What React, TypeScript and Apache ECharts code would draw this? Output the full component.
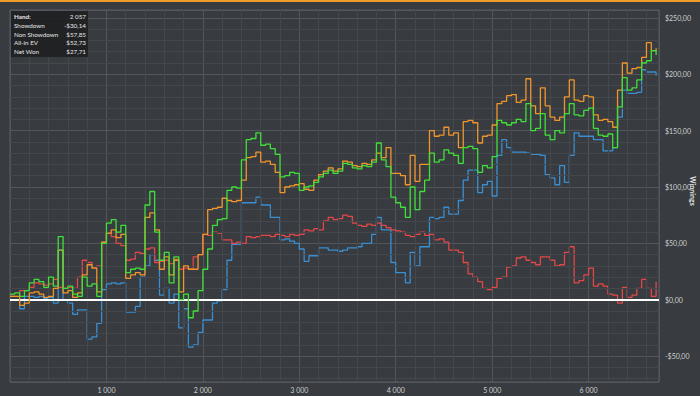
import React, { useEffect, useRef } from "react";
import * as echarts from "echarts";

const hands = [
  0, 50, 100, 150, 200, 250, 300, 350, 400, 450,
  500, 550, 600, 650, 700, 750, 800, 850, 900, 950,
  1000, 1050, 1100, 1150, 1200, 1250, 1300, 1350, 1400, 1450,
  1500, 1550, 1600, 1650, 1700, 1750, 1800, 1850, 1900, 1950,
  2000, 2050, 2100, 2150, 2200, 2250, 2300, 2350, 2400, 2450,
  2500, 2550, 2600, 2650, 2700, 2750, 2800, 2850, 2900, 2950,
  3000, 3050, 3100, 3150, 3200, 3250, 3300, 3350, 3400, 3450,
  3500, 3550, 3600, 3650, 3700, 3750, 3800, 3850, 3900, 3950,
  4000, 4050, 4100, 4150, 4200, 4250, 4300, 4350, 4400, 4450,
  4500, 4550, 4600, 4650, 4700, 4750, 4800, 4850, 4900, 4950,
  5000, 5050, 5100, 5150, 5200, 5250, 5300, 5350, 5400, 5450,
  5500, 5550, 5600, 5650, 5700, 5750, 5800, 5850, 5900, 5950,
  6000, 6050, 6100, 6150, 6200, 6250, 6300, 6350, 6400, 6450,
  6500, 6550, 6600, 6650, 6700,
];

// Net Won (green)
const netWon = [
  5, 6, 3, 8, 15, 18, 16, 11, 20, 12,
  56, 10, 12, 5, 3, 20, 12, 14, 3, 50,
  68, 71, 60, 66, 24, 27, 28, 27, 84, 96,
  60, 35, 42, 15, 38, 0, 5, -16, -10, 8,
  27, 45, 66, 71, 72, 97, 100, 99, 124, 142,
  143, 148, 137, 138, 134, 129, 109, 110, 113, 112,
  97, 100, 101, 104, 109, 112, 115, 112, 114, 121,
  120, 117, 116, 119, 118, 122, 139, 124, 118, 91,
  86, 82, 73, 100, 80, 96, 106, 130, 122, 124,
  133, 130, 128, 121, 135, 136, 134, 113, 119, 117,
  127, 159, 157, 155, 157, 160, 158, 174, 150, 152,
  165, 146, 142, 150, 148, 165, 174, 164, 163, 168,
  170, 152, 146, 145, 147, 135, 171, 197, 186, 188,
  195, 210, 212, 221, 217,
];

// Showdown (blue)
const showdown = [
  0, 0, -8, 3, 3, 2, 3, 1, 2, -3,
  44, 0, -3, -13, -9, -9, -35, -33, -21, 9,
  14, 15, 14, 15, -11, -11, -6, 20, 30, 40,
  35, 4, 10, -3, 5, -25, -8, -42, -40, -29,
  -18, -18, -3, -1, 9, 35, 49, 49, 86, 86,
  86, 91, 84, 84, 73, 73, 53, 54, 52, 50,
  45, 34, 39, 39, 46, 46, 44, 44, 43, 44,
  46, 46, 47, 50, 50, 58, 73, 62, 62, 33,
  24, 24, 15, 42, 30, 47, 47, 73, 72, 73,
  82, 76, 76, 88, 106, 115, 115, 95, 102, 105,
  92, 128, 142, 135, 131, 131, 131, 130, 129, 129,
  128, 111, 108, 102, 119, 104, 128, 148, 145, 145,
  145, 142, 142, 132, 132, 135, 162, 186, 183, 183,
  184, 204, 202, 202, 199,
];

// All-in EV (orange)
const allInEv = [
  3, 3, -5, -3, 6, 7, 5, 2, 3, 10,
  44, 6, 8, 2, 6, 22, 31, 28, 7, 51,
  59, 62, 55, 58, 19, 22, 24, 22, 73, 77,
  62, 27, 38, 22, 35, 7, 30, 27, 27, 40,
  58, 80, 81, 82, 90, 88, 87, 88, 106, 126,
  127, 131, 122, 123, 120, 113, 95, 100, 101, 102,
  103, 98, 97, 106, 111, 114, 117, 114, 116, 123,
  122, 119, 118, 121, 120, 124, 130, 126, 135, 112,
  112, 110, 102, 128, 105, 120, 120, 150, 145, 146,
  153, 146, 148, 135, 158, 159, 157, 139, 145, 146,
  155, 174, 176, 181, 182, 175, 177, 196, 172, 165,
  188, 172, 162, 159, 162, 180, 195, 177, 176, 181,
  180, 164, 159, 160, 158, 153, 186, 210, 201, 205,
  206, 215, 228, 221, 223,
];

// Non Showdown (red)
const nonShowdown = [
  3, 3, 8, 8, 11, 15, 14, 13, 14, 18,
  11, 10, 11, 10, 20, 35, 33, 29, 30, 51,
  59, 56, 50, 48, 35, 36, 42, 41, 45, 46,
  33, 34, 35, 32, 36, 27, 28, 27, 38, 40,
  58, 57, 60, 59, 53, 53, 50, 51, 50, 56,
  55, 56, 57, 57, 56, 58, 57, 56, 58, 57,
  58, 62, 61, 63, 62, 70, 73, 71, 72, 75,
  74, 68, 66, 65, 67, 66, 68, 66, 64, 62,
  61, 60, 57, 56, 58, 60, 57, 58, 53, 54,
  51, 44, 44, 42, 33, 23, 20, 16, 10, 9,
  11, 19, 20, 29, 30, 37, 38, 35, 33, 31,
  38, 38, 35, 30, 31, 42, 47, 15, 17, 22,
  28, 12, 14, 12, 5, 4, -3, 11, 2, 4,
  10, 18, 10, 3, 16,
];

const minorY = [-70, -60, -40, -30, -20, -10, 10, 20, 30, 40, 60, 70, 80, 90, 110, 120, 130, 140, 160, 170, 180, 190, 210, 220, 230, 240];
const minorX = [200, 400, 600, 800, 1200, 1400, 1600, 1800, 2200, 2400, 2600, 2800, 3200, 3400, 3600, 3800, 4200, 4400, 4600, 4800, 5200, 5400, 5600, 5800, 6200, 6400, 6600];

const tooltipRows: [string, string][] = [
  ["Hand:", "2 057"],
  ["Showdown", "-$30,14"],
  ["Non Showdown", "$57,85"],
  ["All-in EV", "$52,73"],
  ["Net Won", "$27,71"],
];

const FONT = "Lato, 'Noto Sans', sans-serif";

function fmtMoney(v: number) {
  const a = Math.abs(v);
  return (v < 0 ? "-$" : "$") + a + ",00";
}
function fmtHands(v: number) {
  if (v >= 1000) {
    return Math.floor(v / 1000) + " " + String(v % 1000).padStart(3, "0");
  }
  return String(v);
}

export default function App() {
  const ref = useRef<HTMLDivElement>(null);
  useEffect(() => {
    if (!ref.current) return;
    const chart = echarts.init(ref.current, undefined, { renderer: "svg" });
    const mk = (vals: number[]) => hands.map((h, i) => [h, vals[i]]);
    const lineSeries = (name: string, vals: number[], color: string, z: number) => ({
      name,
      type: "line",
      data: mk(vals),
      step: "end",
      symbol: "none",
      z,
      lineStyle: { color, width: 1.3 },
      itemStyle: { color },
    });
    const boxTexts: any[] = [];
    tooltipRows.forEach((r, i) => {
      const y = 16.5 + i * 8.8;
      boxTexts.push({
        type: "text",
        x: 14,
        y,
        style: {
          text: r[0],
          fill: "#e6e6e6",
          font: (i === 0 ? "bold " : "") + "6.3px " + FONT,
          verticalAlign: "middle",
        },
        z: 100,
      });
      boxTexts.push({
        type: "text",
        x: 86,
        y,
        style: {
          text: r[1],
          fill: "#e6e6e6",
          font: "6.3px " + FONT,
          align: "right",
          verticalAlign: "middle",
        },
        z: 100,
      });
    });
    chart.setOption({
      animation: false,
      backgroundColor: "#383b3f",
      grid: {
        left: 10,
        right: 41,
        top: 10,
        bottom: 14,
        show: true,
        borderColor: "#5b5e62",
        borderWidth: 1,
        backgroundColor: "transparent",
      },
      xAxis: {
        type: "value",
        min: 0,
        max: 6730,
        interval: 1000,
        axisLine: { show: false },
        axisTick: { show: false },
        axisLabel: {
          color: "#cfd0d2",
          fontSize: 7,
          fontFamily: FONT,
          margin: 4,
          showMinLabel: false,
          showMaxLabel: false,
          formatter: (v: number) => fmtHands(v),
        },
        splitLine: { show: true, lineStyle: { color: "#53565a", width: 1 } },
      },
      yAxis: {
        type: "value",
        position: "right",
        min: -73,
        max: 257,
        splitNumber: 6,
        minInterval: 50,
        maxInterval: 50,
        axisLine: { show: false },
        axisTick: { show: false },
        axisLabel: {
          color: "#cfd0d2",
          fontSize: 7,
          fontFamily: FONT,
          margin: 6,
          showMinLabel: false,
          showMaxLabel: false,
          formatter: (v: number) => fmtMoney(v),
        },
        splitLine: { show: true, lineStyle: { color: "#53565a", width: 1 } },
      },
      series: [
        {
          name: "minor",
          type: "line",
          data: [],
          z: 1,
          silent: true,
          markLine: {
            silent: true,
            symbol: "none",
            label: { show: false },
            lineStyle: { color: "#44474b", width: 1, type: "solid" },
            data: [
              ...minorY.map((v) => ({ yAxis: v })),
              ...minorX.map((v) => ({ xAxis: v })),
            ],
          },
        },
        lineSeries("Showdown", showdown, "#3a8fd3", 3),
        lineSeries("Non Showdown", nonShowdown, "#e24848", 4),
        lineSeries("All-in EV", allInEv, "#f0962c", 5),
        lineSeries("Net Won", netWon, "#3fe03a", 6),
        {
          name: "zero",
          type: "line",
          data: [],
          z: 10,
          silent: true,
          markLine: {
            silent: true,
            symbol: "none",
            label: { show: false },
            lineStyle: { color: "#ffffff", width: 2, type: "solid" },
            data: [{ yAxis: 0 }],
          },
        },
      ],
      graphic: [
        { type: "rect", shape: { x: 0, y: 0, width: 700, height: 2 }, style: { fill: "#f09a2a" }, z: 100 },
        { type: "rect", shape: { x: 11, y: 11, width: 77, height: 46 }, style: { fill: "rgba(30,31,33,0.88)" }, z: 99 },
        ...boxTexts,
        {
          type: "text",
          x: 693,
          y: 191,
          rotation: -Math.PI / 2,
          style: {
            text: "Winnings",
            fill: "#e6e6e6",
            font: "bold 7px " + FONT,
            align: "center",
            verticalAlign: "middle",
          },
          z: 100,
        },
      ],
    });
    return () => chart.dispose();
  }, []);
  return (
    <div
      ref={ref}
      style={{ position: "fixed", left: 0, top: 0, width: 700, height: 396 }}
    />
  );
}
